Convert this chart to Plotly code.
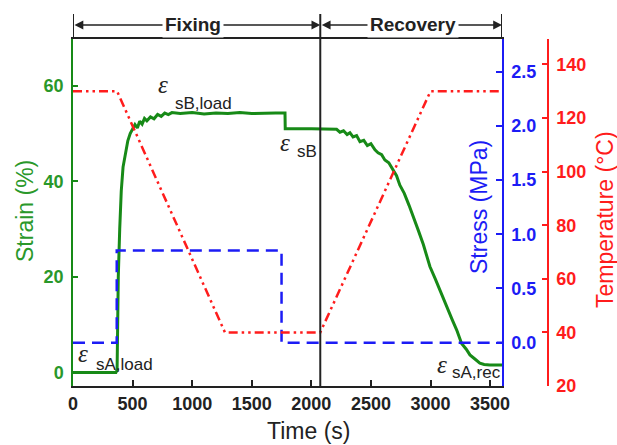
import plotly.graph_objects as go

# ---------------- data ----------------
strain_t = [0, 360, 370, 380, 392, 405, 420, 440, 460, 480, 500, 520, 540, 560, 580, 600, 620, 650,
            680, 710, 740, 770, 800, 830, 900, 1000, 1100, 1200, 1300, 1400, 1500, 1600, 1700, 1779,
            1781, 2000, 2212, 2240, 2270, 2300, 2324, 2350, 2380, 2408, 2440, 2470, 2500, 2534, 2560,
            2590, 2617, 2650, 2687, 2715, 2743, 2780, 2820, 2869, 2900, 2940, 2995, 3040, 3090, 3135,
            3180, 3220, 3261, 3300, 3331, 3370, 3414, 3450, 3498, 3600]
strain_v = [0, 0, 0.5, 20, 30, 38, 43, 46, 48.5, 50, 50.8, 51.9, 51.2, 52.6, 52.0, 53.2, 52.7, 53.5,
            53.1, 54.0, 53.6, 54.3, 54.0, 54.4, 54.2, 54.4, 54.1, 54.3, 54.2, 54.4, 54.2, 54.3, 54.3, 54.3,
            51.0, 51.0, 50.9, 50.3, 50.6, 49.8, 50.2, 49.3, 49.6, 48.3, 48.6, 47.5, 47.9, 46.6, 46.0,
            45.6, 44.5, 43.9, 42.4, 41.2, 39.2, 37.5, 35.0, 31.9, 29.6, 26.8, 22.2, 19.6, 16.5, 13.8,
            11.2, 8.9, 6.1, 4.9, 3.7, 2.9, 2.0, 1.7, 1.6, 1.6]

stress_t = [0, 367, 367.01, 1750, 1750.01, 3600]
stress_v = [0.0, 0.0, 0.85, 0.85, 0.0, 0.0]

temp_t = [0, 370, 1275, 2075, 3000, 3600]
temp_v = [130, 130, 40, 40, 130, 130]

time_ticks = [0, 500, 1000, 1500, 2000, 2500, 3000, 3500]
strain_ticks = [0, 20, 40, 60]
stress_ticks = [0.0, 0.5, 1.0, 1.5, 2.0, 2.5]
temp_ticks = [20, 40, 60, 80, 100, 120, 140]

phase_names = ["Fixing", "Recovery"]
phase_bounds = [0, 2075, 3600]
phase_label_t = [1007, 2852]

# ---------------- styles ----------------
GREEN = "#178a17"
GREEN_T = "#2a982a"
BLUE = "#1c1cf5"
RED = "#ff1c1c"
FONT = "Liberation Sans"

W, H = 617, 445
L, T, B = 73, 39, 59
PLOT_R = 502      # right edge of the x domain (stress axis)
TEMP_X = 548      # temperature axis position
R = W - TEMP_X
pw = TEMP_X - L
ph = H - T - B


def px(xpix):
    return (xpix - L) / pw


def py(ypix):
    return (H - B - ypix) / ph


fig = go.Figure()
fig.add_trace(go.Scatter(x=strain_t, y=strain_v, mode="lines",
                         line=dict(color=GREEN, width=3), yaxis="y", showlegend=False))
fig.add_trace(go.Scatter(x=stress_t, y=stress_v, mode="lines",
                         line=dict(color=BLUE, width=2.5, dash="12px,7px"), yaxis="y2", showlegend=False))
fig.add_trace(go.Scatter(x=temp_t, y=temp_v, mode="lines",
                         line=dict(color=RED, width=2.5, dash="9px,4px,2.5px,4px,2.5px,4px"),
                         yaxis="y3", showlegend=False))

tickfont = lambda c: dict(family=FONT, size=18, color=c, weight="bold")

fig.update_layout(
    width=W, height=H,
    margin=dict(l=L, r=R, t=T, b=B, autoexpand=False),
    paper_bgcolor="white", plot_bgcolor="white",
    xaxis=dict(domain=[0, (PLOT_R - L) / pw], range=[0, 3600], tickvals=time_ticks,
               ticks="inside", ticklen=6, tickwidth=1.5, tickcolor="#222",
               showline=True, linecolor="#222", linewidth=2, mirror=True,
               showgrid=False, zeroline=False, tickfont=tickfont("#222"),
               ticklabelstandoff=0, automargin=False),
    yaxis=dict(range=[-2.8, 69.8], tickvals=strain_ticks, ticks="inside", ticklen=5,
               tickwidth=1.5, tickcolor=GREEN, showline=True, linecolor=GREEN, linewidth=1.5,
               showgrid=False, zeroline=False, tickfont=tickfont(GREEN_T), ticklabelstandoff=4,
               automargin=False),
    yaxis2=dict(range=[-0.4, 2.8], tickvals=stress_ticks, tickformat=".1f", overlaying="y",
                side="right", anchor="x", ticks="inside", ticklen=6, tickwidth=1.5,
                tickcolor=BLUE, showline=True, linecolor=BLUE, linewidth=1.5,
                showgrid=False, zeroline=False, tickfont=tickfont(BLUE), ticklabelstandoff=4,
                automargin=False),
    yaxis3=dict(range=[20, 149.5], tickvals=temp_ticks, overlaying="y", side="right",
                anchor="free", position=1.0, ticks="inside", ticklen=5, tickwidth=1.5,
                tickcolor=RED, showline=True, linecolor=RED, linewidth=1.5,
                showgrid=False, zeroline=False, tickfont=tickfont(RED), ticklabelstandoff=4,
                automargin=False),
)

# phase boundary lines and header
top = py(14)
fig.add_shape(type="line", xref="x", yref="paper", x0=phase_bounds[0], x1=phase_bounds[0],
              y0=1, y1=top, line=dict(color="#222", width=2))
fig.add_shape(type="line", xref="x", yref="paper", x0=phase_bounds[1], x1=phase_bounds[1],
              y0=0, y1=top, line=dict(color="#222", width=2))
fig.add_shape(type="line", xref="x", yref="paper", x0=phase_bounds[2], x1=phase_bounds[2],
              y0=1, y1=top, line=dict(color="#222", width=2))

ya = py(25)
for i, name in enumerate(phase_names):
    fig.add_annotation(x=phase_bounds[i + 1], y=ya, xref="x", yref="y domain",
                       ax=phase_bounds[i], ay=ya, axref="x", ayref="y domain",
                       text="", showarrow=True, arrowhead=2, arrowside="end+start",
                       arrowsize=1.1, arrowwidth=1.6, arrowcolor="#222", standoff=0, startstandoff=0)
    fig.add_annotation(x=phase_label_t[i], y=ya, xref="x", yref="y domain", text=name,
                       showarrow=False, bgcolor="white", borderpad=2,
                       xanchor="center", yanchor="middle",
                       font=dict(family=FONT, size=19, color="#222", weight="bold"))

# epsilon labels
eps = [(755, 60.2, 1091, 56.4, "sB,load"),
       (1779, 48.1, 1960, 46.3, "sB"),
       (84, 4.1, 436, 1.8, "sA,load"),
       (3093, 1.6, 3387, -0.06, "sA,rec")]
for ex, ey, sx, sy, sub in eps:
    fig.add_annotation(x=ex, y=ey, xref="x", yref="y", text="<i>ε</i>", showarrow=False,
                       xanchor="center", yanchor="middle",
                       font=dict(family="Liberation Serif", size=25, color="#222"))
    fig.add_annotation(x=sx, y=sy, xref="x", yref="y", text=sub, showarrow=False,
                       xanchor="center", yanchor="middle",
                       font=dict(family=FONT, size=17, color="#222"))

# axis titles
titles = [("Strain (%)", 25, 211, -90, GREEN_T),
          ("Stress (MPa)", 479, 207, -90, BLUE),
          ("Temperature (°C)", 605, 220, -90, RED),
          ("Time (s)", 308, 431, 0, "#222")]
for txt, tx, ty, ang, col in titles:
    fig.add_annotation(x=px(tx), y=py(ty), xref="paper", yref="paper", text=txt,
                       textangle=ang, showarrow=False, xanchor="center", yanchor="middle",
                       font=dict(family=FONT, size=23, color=col))

fig.write_html("out.html", config={"displayModeBar": False},
               post_script="document.body.style.margin='0';document.body.style.overflow='hidden';")
